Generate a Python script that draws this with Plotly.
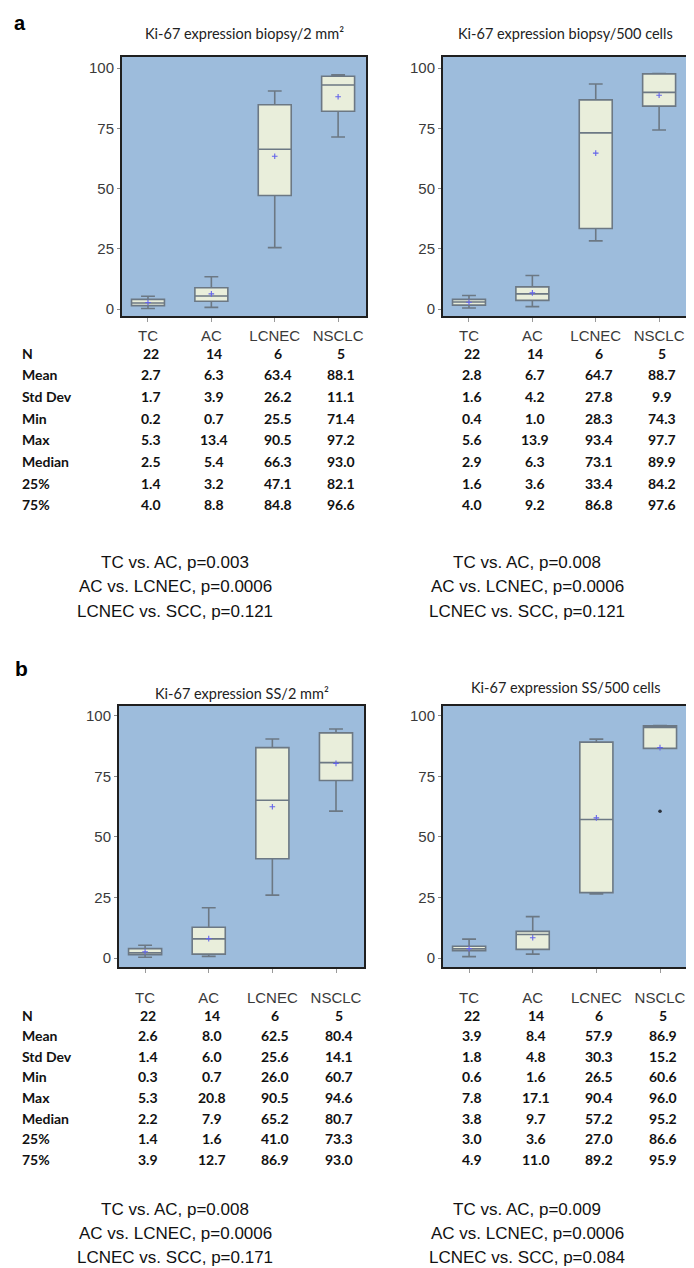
import plotly.graph_objects as go

# ---------------- data ----------------
categories = ["TC", "AC", "LCNEC", "NSCLC"]
stat_labels = ["N", "Mean", "Std Dev", "Min", "Max", "Median", "25%", "75%"]

titles = ["Ki-67 expression biopsy/2 mm²", "Ki-67 expression biopsy/500 cells",
          "Ki-67 expression SS/2 mm²", "Ki-67 expression SS/500 cells"]

# a, left: biopsy / 2 mm2
n_a1 = [22, 14, 6, 5]
mean_a1 = [2.7, 6.3, 63.4, 88.1]
sd_a1 = [1.7, 3.9, 26.2, 11.1]
min_a1 = [0.2, 0.7, 25.5, 71.4]
max_a1 = [5.3, 13.4, 90.5, 97.2]
med_a1 = [2.5, 5.4, 66.3, 93.0]
q1_a1 = [1.4, 3.2, 47.1, 82.1]
q3_a1 = [4.0, 8.8, 84.8, 96.6]

# a, right: biopsy / 500 cells
n_a2 = [22, 14, 6, 5]
mean_a2 = [2.8, 6.7, 64.7, 88.7]
sd_a2 = [1.6, 4.2, 27.8, 9.9]
min_a2 = [0.4, 1.0, 28.3, 74.3]
max_a2 = [5.6, 13.9, 93.4, 97.7]
med_a2 = [2.9, 6.3, 73.1, 89.9]
q1_a2 = [1.6, 3.6, 33.4, 84.2]
q3_a2 = [4.0, 9.2, 86.8, 97.6]

# b, left: SS / 2 mm2
n_b1 = [22, 14, 6, 5]
mean_b1 = [2.6, 8.0, 62.5, 80.4]
sd_b1 = [1.4, 6.0, 25.6, 14.1]
min_b1 = [0.3, 0.7, 26.0, 60.7]
max_b1 = [5.3, 20.8, 90.5, 94.6]
med_b1 = [2.2, 7.9, 65.2, 80.7]
q1_b1 = [1.4, 1.6, 41.0, 73.3]
q3_b1 = [3.9, 12.7, 86.9, 93.0]

# b, right: SS / 500 cells
n_b2 = [22, 14, 6, 5]
mean_b2 = [3.9, 8.4, 57.9, 86.9]
sd_b2 = [1.8, 4.8, 30.3, 15.2]
min_b2 = [0.6, 1.6, 26.5, 60.6]
max_b2 = [7.8, 17.1, 90.4, 96.0]
med_b2 = [3.8, 9.7, 57.2, 95.2]
q1_b2 = [3.0, 3.6, 27.0, 86.6]
q3_b2 = [4.9, 11.0, 89.2, 95.9]
# lower whisker ends (NSCLC minimum plotted as an outlier)
low_whisker_b2 = [0.6, 1.6, 26.5, 86.6]
outlier_x_b2 = ["NSCLC"]
outlier_y_b2 = [60.6]

pvalues = [
    ["TC vs. AC, p=0.003", "AC vs. LCNEC, p=0.0006", "LCNEC vs. SCC, p=0.121"],
    ["TC vs. AC, p=0.008", "AC vs. LCNEC, p=0.0006", "LCNEC vs. SCC, p=0.121"],
    ["TC vs. AC, p=0.008", "AC vs. LCNEC, p=0.0006", "LCNEC vs. SCC, p=0.171"],
    ["TC vs. AC, p=0.009", "AC vs. LCNEC, p=0.0006", "LCNEC vs. SCC, p=0.084"],
]

panels = [
    dict(n=n_a1, mean=mean_a1, sd=sd_a1, mn=min_a1, mx=max_a1, med=med_a1, q1=q1_a1, q3=q3_a1,
         lo=min_a1, ox=[], oy=[]),
    dict(n=n_a2, mean=mean_a2, sd=sd_a2, mn=min_a2, mx=max_a2, med=med_a2, q1=q1_a2, q3=q3_a2,
         lo=min_a2, ox=[], oy=[]),
    dict(n=n_b1, mean=mean_b1, sd=sd_b1, mn=min_b1, mx=max_b1, med=med_b1, q1=q1_b1, q3=q3_b1,
         lo=min_b1, ox=[], oy=[]),
    dict(n=n_b2, mean=mean_b2, sd=sd_b2, mn=min_b2, mx=max_b2, med=med_b2, q1=q1_b2, q3=q3_b2,
         lo=low_whisker_b2, ox=outlier_x_b2, oy=outlier_y_b2),
]

# ---------------- layout geometry (screen pixels; page body has an 8px margin) ----------------
OFF = 8
W, H = 694 - OFF, 1268 - OFF
px = lambda v: (v - OFF) / W
py = lambda v: 1 - (v - OFF) / H

x_dom = [(122, 366), (443, 687), (119, 364), (443, 688)]
y_dom = [(57, 316), (57, 316), (706, 967), (706, 967)]
y_rng = [(-2.9, 104.6), (-2.9, 104.6), (-3.7, 104.1), (-3.7, 104.1)]
title_y = [33, 33, 693, 687]
n_row_y = [353, 353, 1015, 1015]
row_step = [21.7, 21.7, 20.6, 20.6]
p_y = [[562, 587, 611], [562, 587, 611], [1209, 1233, 1257], [1209, 1233, 1257]]
p_x = [175, 527, 175, 527]
standoff = [1, 1, 12, 12]

PLOT_BG = "#9dbcdc"
BOX_FILL = "#e9eedb"
BOX_LINE = "#6c7884"
MEAN_COL = "#6464ea"

fig = go.Figure()
annotations = []

for k, p in enumerate(panels):
    ax = "" if k == 0 else str(k + 1)
    xr, yr = "x" + ax, "y" + ax
    fig.add_trace(go.Box(
        x=categories, q1=p["q1"], median=p["med"], q3=p["q3"],
        lowerfence=p["lo"], upperfence=p["mx"],
        xaxis=xr, yaxis=yr, width=0.52, whiskerwidth=0.42,
        fillcolor=BOX_FILL, line=dict(color=BOX_LINE, width=1.6),
        boxpoints=False, showlegend=False, hoverinfo="skip"))
    fig.add_trace(go.Scatter(
        x=categories, y=p["mean"], mode="markers", xaxis=xr, yaxis=yr,
        marker=dict(symbol="cross-thin", size=4, line=dict(color=MEAN_COL, width=1.1)),
        showlegend=False, hoverinfo="skip"))
    if p["ox"]:
        fig.add_trace(go.Scatter(
            x=p["ox"], y=p["oy"], mode="markers", xaxis=xr, yaxis=yr,
            marker=dict(symbol="circle", size=3.5, color="#2a2f38"),
            showlegend=False, hoverinfo="skip"))

    axis_common = dict(showline=True, mirror=True, linecolor="#1f1f1f", linewidth=2,
                       showgrid=False, zeroline=False)
    fig.update_layout(**{
        "xaxis" + ax: dict(domain=[px(x_dom[k][0]), px(x_dom[k][1])], anchor=yr,
                           type="category", categoryorder="array", categoryarray=categories,
                           range=[-0.41, 3.44], ticks="outside", ticklen=4, tickcolor="#9a9a9a",
                           ticklabelstandoff=standoff[k],
                           tickfont=dict(family="Liberation Sans", size=15, color="#3a3a3a"),
                           **axis_common),
        "yaxis" + ax: dict(domain=[py(y_dom[k][1]), py(y_dom[k][0])], anchor=xr,
                           range=list(y_rng[k]), tickvals=[0, 25, 50, 75, 100],
                           ticks="outside", ticklen=3, tickcolor="#8a8a8a",
                           tickfont=dict(family="Liberation Sans", size=15, color="#3a3a3a"),
                           **axis_common),
    })

    # panel title
    annotations.append(dict(text=titles[k], x=px((x_dom[k][0] + x_dom[k][1]) / 2), y=py(title_y[k]),
                            xref="paper", yref="paper", showarrow=False, xanchor="center",
                            yanchor="middle", font=dict(family="Lato", size=14.5, color="#222222")))

    # statistics table
    rows = [p["n"], p["mean"], p["sd"], p["mn"], p["mx"], p["med"], p["q1"], p["q3"]]
    for r, (lab, vals) in enumerate(zip(stat_labels, rows)):
        yy = py(n_row_y[k] + r * row_step[k])
        if k in (0, 2):
            annotations.append(dict(text=lab, x=px(20), y=yy, xref="paper", yref="paper",
                                    showarrow=False, xanchor="left", yanchor="middle",
                                    font=dict(family="Lato", size=14, color="#111111", weight="bold")))
        for c, v in zip(categories, vals):
            txt = str(v) if r == 0 else f"{v:.1f}"
            annotations.append(dict(text=txt, x=c, y=yy, xref=xr, yref="paper", xshift=3,
                                    showarrow=False, xanchor="center", yanchor="middle",
                                    font=dict(family="Lato", size=14, color="#111111", weight="bold")))

    # p-values
    for line, yv in zip(pvalues[k], p_y[k]):
        annotations.append(dict(text=line, x=px(p_x[k]), y=py(yv), xref="paper", yref="paper",
                                showarrow=False, xanchor="center", yanchor="middle",
                                font=dict(family="Liberation Sans", size=17, color="#111111")))

# panel letters
annotations.append(dict(text="<b>a</b>", x=px(20), y=py(10), xref="paper", yref="paper",
                        showarrow=False, xanchor="center", yanchor="top",
                        font=dict(family="Liberation Sans", size=20, color="#000000")))
annotations.append(dict(text="<b>b</b>", x=px(22), y=py(668), xref="paper", yref="paper",
                        showarrow=False, xanchor="center", yanchor="middle",
                        font=dict(family="Liberation Sans", size=21, color="#000000")))

fig.update_layout(width=W, height=H, margin=dict(l=0, r=0, t=0, b=0),
                  paper_bgcolor="white", plot_bgcolor=PLOT_BG,
                  annotations=annotations, showlegend=False)

fig.write_html("out.html")
